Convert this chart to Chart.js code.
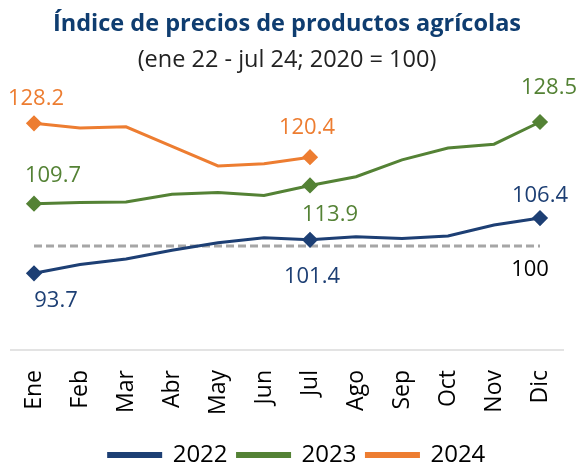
<!DOCTYPE html>
<html>
<head>
<meta charset="utf-8">
<script src="https://cdn.jsdelivr.net/npm/chart.js@4"></script>
<style>
  html, body { margin: 0; padding: 0; background: #fff; }
  #wrap { width: 577px; height: 463px; }
</style>
</head>
<body>
<div id="wrap"><canvas id="chartPrecios"></canvas></div>
<script>
const meses = ['Ene', 'Feb', 'Mar', 'Abr', 'May', 'Jun', 'Jul', 'Ago', 'Sep', 'Oct', 'Nov', 'Dic'];
const serie2022 = [93.7, 95.7, 97.0, 99.0, 100.7, 101.9, 101.4, 102.1, 101.7, 102.3, 104.8, 106.4];
const serie2023 = [109.7, 110.0, 110.1, 111.9, 112.3, 111.6, 113.9, 115.9, 119.8, 122.5, 123.4, 128.5];
const serie2024 = [128.2, 127.1, 127.4, 122.9, 118.4, 118.9, 120.4];
const base2020 = [100, 100, 100, 100, 100, 100, 100, 100, 100, 100, 100, 100];

const FONT = "'Open Sans', sans-serif";
const AZUL = '#1d3f74';
const VERDE = '#548235';
const NARANJA = '#ed7d31';

// markers only on Ene, Jul, Dic
function diamantes(n) {
    return meses.slice(0, n).map((m, i) => (i === 0 || i === 6 || i === 11) ? 6 : 0);
}

// value labels: [dataset, index, dx, dy]
const etiquetas = [
    [0, 0, 22, 27], [0, 6, 2, 37], [0, 11, 0, -22],
    [1, 0, 19, -28], [1, 6, 20, 29], [1, 11, 9, -34],
    [2, 0, 2, -25], [2, 6, -3, -29]
];

const etiquetasPlugin = {
    id: 'etiquetas',
    afterLayout(chart) {
        // legend sits a bit right of centre in the original
        chart.legend.left += 10;
        chart.legend.right += 10;
    },
    afterDatasetsDraw(chart) {
        const ctx = chart.ctx;
        ctx.save();
        ctx.font = '22px ' + FONT;
        ctx.textAlign = 'center';
        ctx.textBaseline = 'middle';
        etiquetas.forEach(([d, i, dx, dy]) => {
            const pt = chart.getDatasetMeta(d).data[i];
            const ds = chart.data.datasets[d];
            ctx.fillStyle = ds.borderColor;
            ctx.fillText(ds.data[i].toFixed(1), pt.x + dx, pt.y + dy);
        });
        // base line label
        const ref = chart.getDatasetMeta(3).data[11];
        ctx.fillStyle = '#000';
        ctx.fillText('100', ref.x - 10, ref.y + 24);
        ctx.restore();
    }
};

new Chart(document.getElementById('chartPrecios').getContext('2d'), {
    type: 'line',
    data: {
        labels: meses,
        datasets: [
            { label: '2022', data: serie2022, borderColor: AZUL, backgroundColor: AZUL,
              borderWidth: 3, pointStyle: 'rectRot', pointRadius: diamantes(12), tension: 0 },
            { label: '2023', data: serie2023, borderColor: VERDE, backgroundColor: VERDE,
              borderWidth: 3, pointStyle: 'rectRot', pointRadius: diamantes(12), tension: 0 },
            { label: '2024', data: serie2024, borderColor: NARANJA, backgroundColor: NARANJA,
              borderWidth: 3, pointStyle: 'rectRot', pointRadius: diamantes(7), tension: 0 },
            { label: 'base', data: base2020, borderColor: '#a6a6a6', borderWidth: 3,
              borderDash: [8, 4], pointRadius: 0 }
        ]
    },
    options: {
        responsive: true,
        maintainAspectRatio: false,
        animation: false,
        layout: { padding: { left: 11, right: 14, top: 0, bottom: -14 } },
        plugins: {
            title: {
                display: true,
                text: 'Índice de precios de productos agrícolas',
                color: '#0f3d70',
                font: { family: FONT, size: 23.5, weight: 'bold' },
                padding: { top: 10, bottom: 4 }
            },
            subtitle: {
                display: true,
                text: '(ene 22 - jul 24; 2020 = 100)',
                color: '#222',
                font: { family: FONT, size: 23.5 },
                padding: { top: 4, bottom: 15 }
            },
            legend: {
                position: 'bottom',
                labels: {
                    filter: item => item.text !== 'base',
                    boxWidth: 52, boxHeight: 3,
                    color: '#000',
                    font: { family: FONT, size: 24 },
                    padding: 10
                }
            },
            tooltip: { enabled: false }
        },
        scales: {
            x: {
                offset: true,
                grid: { display: false },
                border: { color: '#e3e3e3', width: 2 },
                ticks: { minRotation: 90, maxRotation: 90, color: '#000',
                         font: { family: FONT, size: 23 }, padding: 12 },
                afterFit(scale) {
                    scale.paddingLeft = 0;
                    scale.paddingRight = 0;
                    scale.height += 6;
                }
            },
            y: {
                display: false,
                min: 76.05,
                max: 136.0
            }
        }
    },
    plugins: [etiquetasPlugin]
});
</script>
</body>
</html>
